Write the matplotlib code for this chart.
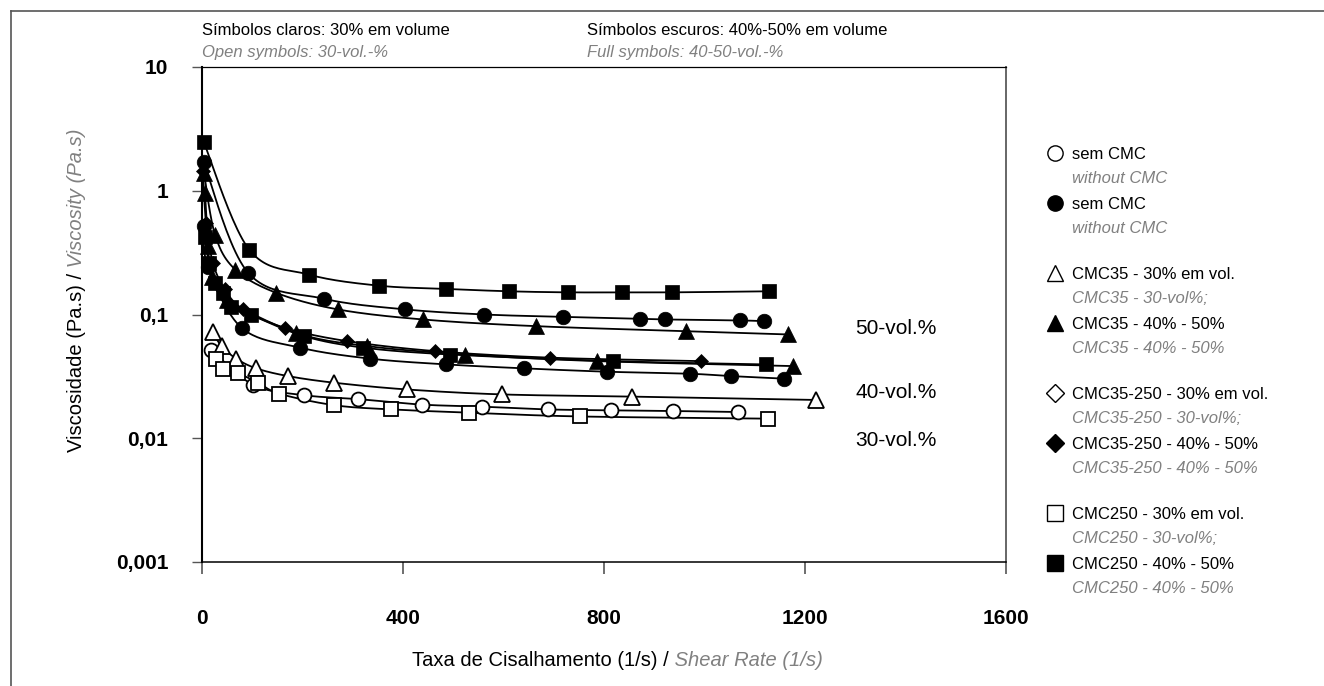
import numpy as np
import matplotlib
matplotlib.use('Agg')
import matplotlib.pyplot as plt
from matplotlib.ticker import NullLocator

NARROW = ['Liberation Sans Narrow', 'Liberation Sans', 'DejaVu Sans']
ARIAL = ['Liberation Sans', 'DejaVu Sans']
GREY = '#808080'

# ---- data (shear rate 1/s, viscosity Pa.s) ----
# 30 vol.% (open symbols)
x_sem30 = [18, 102, 202, 311, 438, 557, 689, 814, 937, 1066]
y_sem30 = [0.052, 0.027, 0.0223, 0.0207, 0.0187, 0.018, 0.0171, 0.0168, 0.0166, 0.0163]
x_c35_30 = [21, 39, 68, 108, 171, 263, 407, 598, 856, 1221]
y_c35_30 = [0.072, 0.0555, 0.044, 0.0367, 0.0318, 0.0281, 0.0248, 0.0226, 0.0217, 0.0204]
x_c250_30 = [28, 42, 72, 112, 154, 263, 376, 531, 752, 1127]
y_c250_30 = [0.0434, 0.036, 0.0334, 0.0281, 0.0229, 0.0185, 0.0171, 0.0161, 0.015, 0.0144]

# 40 / 50 vol.% (full symbols)
x_sem50 = [3, 92, 243, 404, 562, 718, 872, 921, 1071, 1119]
y_sem50 = [1.72, 0.217, 0.134, 0.110, 0.100, 0.0957, 0.0923, 0.0912, 0.0895, 0.0884]
x_sem40 = [3, 12, 79, 195, 334, 486, 641, 805, 971, 1052, 1159]
y_sem40 = [0.52, 0.24, 0.078, 0.054, 0.044, 0.0395, 0.0367, 0.0345, 0.0332, 0.0318, 0.0303]
x_c35_50 = [4, 26, 66, 147, 270, 439, 664, 963, 1166]
y_c35_50 = [1.4, 0.44, 0.231, 0.150, 0.110, 0.0912, 0.0805, 0.0733, 0.069]
x_c35_40 = [6, 12, 20, 50, 188, 328, 523, 787, 1177]
y_c35_40 = [0.96, 0.36, 0.20, 0.132, 0.071, 0.0556, 0.0475, 0.042, 0.0383]
x_c35250_40 = [2, 8, 22, 45, 82, 165, 288, 464, 692, 994]
y_c35250_40 = [1.45, 0.55, 0.26, 0.16, 0.11, 0.078, 0.061, 0.0506, 0.0448, 0.042]
x_c250_50 = [3, 94, 213, 352, 485, 611, 728, 836, 936, 1128]
y_c250_50 = [2.5, 0.334, 0.210, 0.171, 0.161, 0.154, 0.151, 0.151, 0.151, 0.154]
x_c250_40 = [5, 14, 26, 42, 57, 98, 202, 321, 494, 818, 1122]
y_c250_40 = [0.42, 0.26, 0.18, 0.15, 0.115, 0.099, 0.067, 0.054, 0.0475, 0.042, 0.0395]

x_ticks = [0, 400, 800, 1200, 1600]
y_ticks = [0.001, 0.01, 0.1, 1, 10]
y_tick_labels = ['0,001', '0,01', '0,1', '1', '10']

vol_labels = ['50-vol.%', '40-vol.%', '30-vol.%']

legend_main = ['sem CMC', 'sem CMC', 'CMC35 - 30% em vol.', 'CMC35 - 40% - 50%',
               'CMC35-250 - 30% em vol.', 'CMC35-250 - 40% - 50%',
               'CMC250 - 30% em vol.', 'CMC250 - 40% - 50%']
legend_en = ['without CMC', 'without CMC', 'CMC35 - 30-vol%;', 'CMC35 - 40% - 50%',
             'CMC35-250 - 30-vol%;', 'CMC35-250 - 40% - 50%',
             'CMC250 - 30-vol%;', 'CMC250 - 40% - 50%']
legend_marker = ['o', 'o', '^', '^', 'D', 'D', 's', 's']


def smooth(xs, ys, n=24):
    # excel-like smoothed line (catmull-rom) in screen-ish units
    u = np.asarray(xs, float) * 804 / 1600
    v = np.log10(np.asarray(ys, float)) * 124
    P = np.column_stack([u, v])
    out = [P[0]]
    t = np.linspace(0, 1, n)[1:, None]
    for i in range(len(P) - 1):
        p0 = P[i - 1] if i > 0 else P[i]
        p1, p2 = P[i], P[i + 1]
        p3 = P[i + 2] if i + 2 < len(P) else P[i + 1]
        c1 = p1 + (p2 - p0) / 6
        c2 = p2 - (p3 - p1) / 6
        seg = ((1 - t) ** 3) * p1 + 3 * ((1 - t) ** 2) * t * c1 + 3 * (1 - t) * t ** 2 * c2 + t ** 3 * p2
        out.extend(seg)
    out = np.array(out)
    return out[:, 0] * 1600 / 804, 10 ** (out[:, 1] / 124)


fig = plt.figure(figsize=(13.24, 6.86), dpi=100)
ax = fig.add_axes([202 / 1324, 1 - 562 / 686, 804 / 1324, 495 / 686])

series = [
    (x_sem30, y_sem30, 'o', 'white', 10),
    (x_c35_30, y_c35_30, '^', 'white', 11),
    (x_c250_30, y_c250_30, 's', 'white', 10),
    (x_sem50, y_sem50, 'o', 'black', 10.5),
    (x_sem40, y_sem40, 'o', 'black', 10.5),
    (x_c35_50, y_c35_50, '^', 'black', 11),
    (x_c35_40, y_c35_40, '^', 'black', 11),
    (x_c35250_40, y_c35250_40, 'D', 'black', 7.2),
    (x_c250_50, y_c250_50, 's', 'black', 10.5),
    (x_c250_40, y_c250_40, 's', 'black', 10.5),
]
for xs, ys, m, fc, ms in series:
    sx, sy = smooth(xs, ys)
    ax.plot(sx, sy, color='black', lw=1.3, zorder=2, clip_on=False)
    ax.plot(xs, ys, ls='none', marker=m, ms=ms, mfc=fc, mec='black',
            mew=1.3 if fc == 'white' else 0.5, zorder=3, clip_on=False)

ax.set_yscale('log')
ax.set_xlim(0, 1600)
ax.set_ylim(0.001, 10)
ax.set_xticks(x_ticks)
ax.set_xticklabels([str(v) for v in x_ticks])
ax.set_yticks(y_ticks)
ax.set_yticklabels(y_tick_labels)
ax.yaxis.set_minor_locator(NullLocator())
for lab in ax.get_xticklabels() + ax.get_yticklabels():
    lab.set_family(ARIAL)
    lab.set_fontweight('bold')
    lab.set_fontsize(15)
ax.tick_params(axis='y', direction='out', length=7.2, width=1, color='#555555', pad=17)
ax.tick_params(axis='x', direction='out', length=8.6, width=1.2, color='#555555', pad=25)
ax.spines['left'].set_linewidth(1.5)
ax.spines['top'].set_linewidth(0.9)
ax.spines['bottom'].set_linewidth(1.1)
ax.spines['right'].set_linewidth(1.4)
ax.spines['right'].set_color('#666666')

# overlay in pixel coordinates for frame, notes and legend
lg = fig.add_axes([0, 0, 1, 1])
lg.set_xlim(0, 1324)
lg.set_ylim(686, 0)
lg.axis('off')
lg.patch.set_visible(False)
lg.plot([11, 1324], [11, 11], color='#555555', lw=1.2)
lg.plot([11, 11], [11, 686], color='#555555', lw=1.2)

NOTE = 12
lg.text(202, 35, 'Símbolos claros: 30% em volume', family=NARROW, fontsize=NOTE, va='baseline')
lg.text(202, 57, 'Open symbols: 30-vol.-%', family=NARROW, fontsize=NOTE, style='italic',
        color=GREY, va='baseline')
lg.text(587, 35, 'Símbolos escuros: 40%-50% em volume', family=NARROW, fontsize=NOTE,
        va='baseline')
lg.text(587, 57, 'Full symbols: 40-50-vol.-%', family=NARROW, fontsize=NOTE, style='italic',
        color=GREY, va='baseline')

for lab, yy in zip(vol_labels, [328, 393, 440]):
    lg.text(855, yy, lab, family=ARIAL, fontsize=15, va='center')

for i, (m, t1, t2) in enumerate(zip(legend_marker, legend_main, legend_en)):
    g = 153 + 120 * (i // 2) + 50 * (i % 2)
    fc = 'white' if i % 2 == 0 else 'black'
    ms = {'o': 11, '^': 12, 'D': 9, 's': 11.5}[m]
    lg.plot([1055], [g], marker=m, ms=ms, mfc=fc, mec='black', mew=1.0, ls='none')
    lg.text(1072, g + 6, t1, family=NARROW, fontsize=NOTE, va='baseline')
    lg.text(1072, g + 30, t2, family=NARROW, fontsize=NOTE, style='italic', color=GREY,
            va='baseline')

# axis titles: black Portuguese + grey italic English
AX = 14.5
yl = lg.text(76, 452, 'Viscosidade (Pa.s) /', family=NARROW, fontsize=AX, rotation=90,
             rotation_mode='anchor', ha='left', va='center')
lg.annotate(' Viscosity (Pa.s)', xy=(0.5, 1), xycoords=yl, family=NARROW, fontsize=AX,
            style='italic', color=GREY, rotation=90, rotation_mode='anchor',
            ha='left', va='center')
xl = lg.text(412, 660, 'Taxa de Cisalhamento (1/s) /', family=NARROW, fontsize=AX,
             ha='left', va='center')
lg.annotate(' Shear Rate (1/s)', xy=(1, 0.5), xycoords=xl, family=NARROW, fontsize=AX,
            style='italic', color=GREY, ha='left', va='center')

fig.savefig('out.png', dpi=100)
